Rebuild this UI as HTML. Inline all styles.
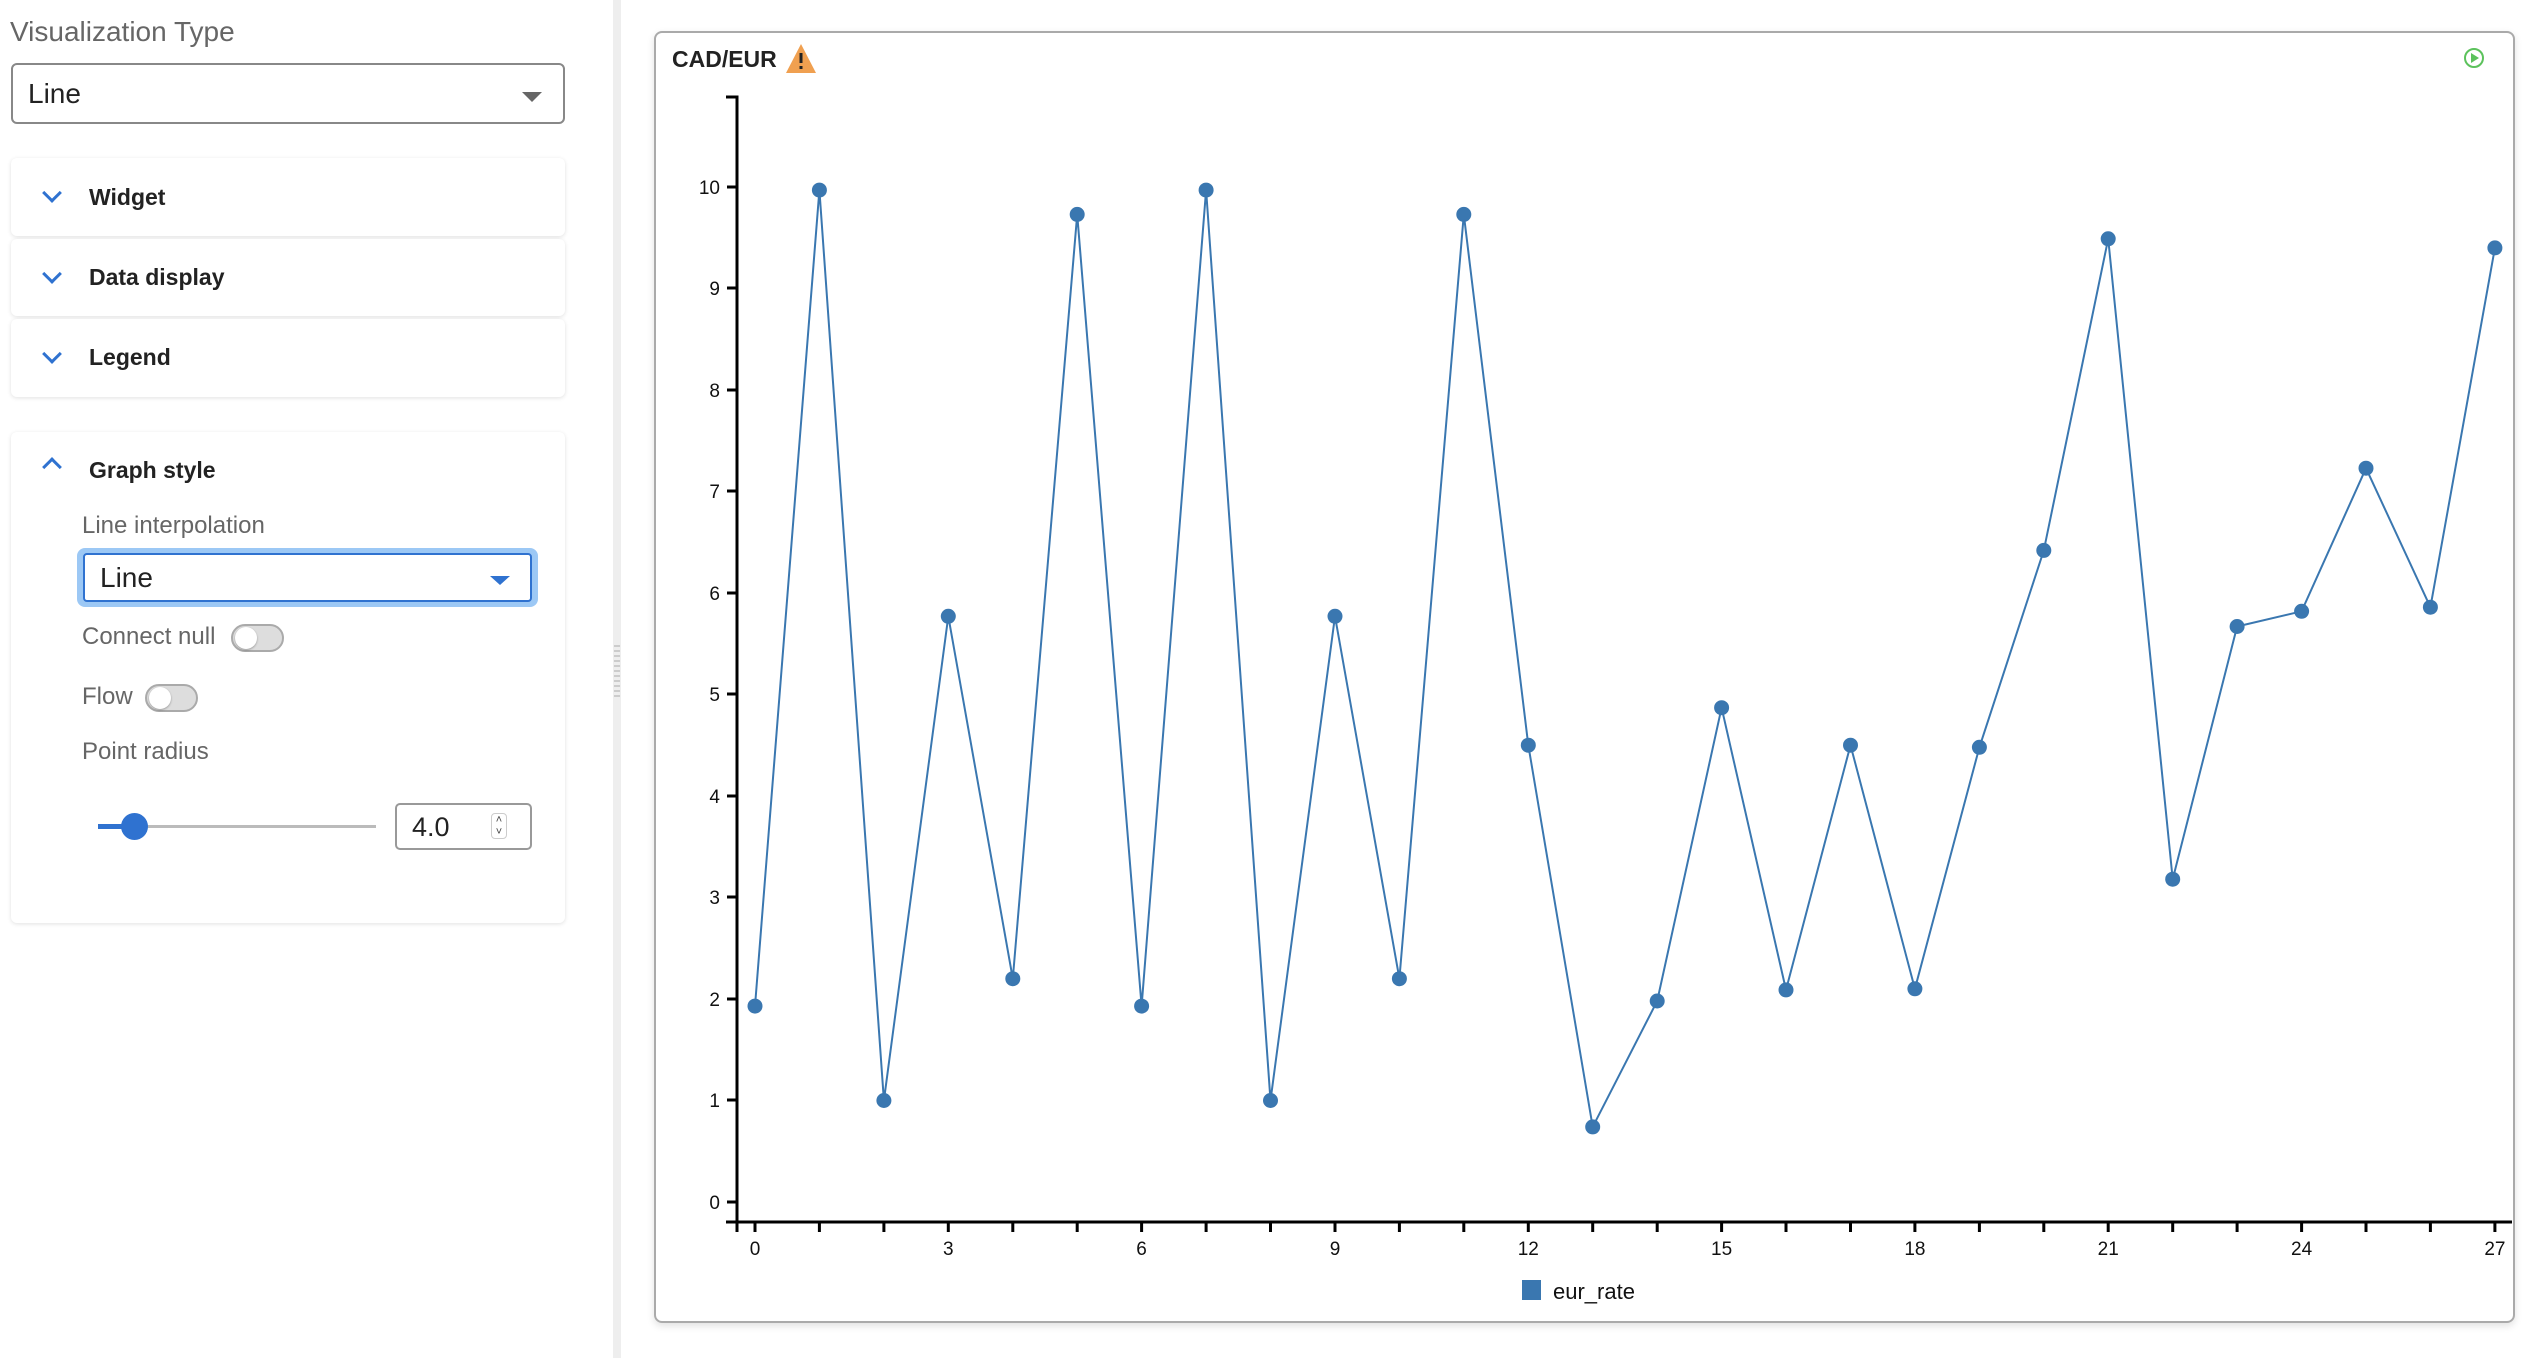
<!DOCTYPE html>
<html><head><meta charset="utf-8"><style>
*{box-sizing:border-box;margin:0;padding:0}
body{width:2526px;height:1358px;background:#fff;font-family:"Liberation Sans",sans-serif;position:relative;overflow:hidden;color:#222}
.abs{position:absolute}
.lbl{color:#666;font-size:26px}
.card{position:absolute;left:11px;width:554px;background:#fff;border-radius:6px;box-shadow:0 1px 4px rgba(0,0,0,0.12)}
.ct{position:absolute;left:78px;font-weight:bold;font-size:23px;color:#222}
.chev{position:absolute;left:34px;width:14px;height:14px;border-right:3px solid #2f72d0;border-bottom:3px solid #2f72d0;transform:rotate(45deg)}
.tog{position:absolute;width:53px;height:28px;border-radius:14px;background:#ddd;border:2px solid #aaa}
.tog::after{content:"";position:absolute;left:2px;top:1px;width:22px;height:22px;border-radius:50%;background:#fff;box-shadow:0 1px 2px rgba(0,0,0,.3)}
</style></head><body>
<div class="abs lbl" style="left:10px;top:16px;font-size:28px">Visualization Type</div>
<div class="abs" style="left:11px;top:63px;width:554px;height:61px;border:2px solid #888;border-radius:6px"></div>
<div class="abs" style="left:28px;top:78px;font-size:28px">Line</div>
<div class="abs" style="left:522px;top:92px;border-left:10px solid transparent;border-right:10px solid transparent;border-top:10px solid #666"></div>

<div class="card" style="top:158px;height:78px"><div class="chev" style="top:28px"></div><div class="ct" style="top:26px">Widget</div></div>
<div class="card" style="top:239px;height:77px"><div class="chev" style="top:28px"></div><div class="ct" style="top:25px">Data display</div></div>
<div class="card" style="top:319px;height:78px"><div class="chev" style="top:28px"></div><div class="ct" style="top:25px">Legend</div></div>
<div class="card" style="top:432px;height:491px">
 <div class="chev" style="top:28px;transform:rotate(-135deg)"></div><div class="ct" style="top:25px">Graph style</div>
</div>
<div class="abs lbl" style="left:82px;top:512px;font-size:24px">Line interpolation</div>
<div class="abs" style="left:77px;top:548px;width:461px;height:59px;border-radius:8px;background:#9cc8f5"></div>
<div class="abs" style="left:83px;top:553px;width:449px;height:49px;border-radius:4px;background:#fff;border:2px solid #2f72d0"></div>
<div class="abs" style="left:100px;top:562px;font-size:28px">Line</div>
<div class="abs" style="left:490px;top:576px;border-left:10px solid transparent;border-right:10px solid transparent;border-top:9px solid #2f72d0"></div>
<div class="abs lbl" style="left:82px;top:623px;font-size:24px">Connect null</div>
<div class="tog" style="left:231px;top:624px"></div>
<div class="abs lbl" style="left:82px;top:683px;font-size:24px">Flow</div>
<div class="tog" style="left:145px;top:684px"></div>
<div class="abs lbl" style="left:82px;top:738px;font-size:24px">Point radius</div>
<div class="abs" style="left:98px;top:825px;width:278px;height:3px;background:#bbb"></div>
<div class="abs" style="left:98px;top:824px;width:36px;height:5px;background:#2f72d0"></div>
<div class="abs" style="left:121px;top:813px;width:27px;height:27px;border-radius:50%;background:#2f72d0"></div>
<div class="abs" style="left:395px;top:803px;width:137px;height:47px;border:2px solid #999;border-radius:5px"></div>
<div class="abs" style="left:412px;top:812px;font-size:27px">4.0</div>
<div class="abs" style="left:491px;top:813px;width:16px;height:26px;border:1px solid #ccc;border-radius:4px;font-size:11px;line-height:12px;text-align:center;color:#444">˄<br>˅</div>

<div class="abs" style="left:613px;top:0;width:8px;height:1358px;background:#eee"></div>
<div class="abs" style="left:614px;top:645px;width:6px;height:55px;background:repeating-linear-gradient(#ccc 0 2px,transparent 2px 5px)"></div>

<div class="abs" style="left:654px;top:31px;width:1861px;height:1292px;border:2px solid #aaa;border-radius:8px;box-shadow:0 3px 8px rgba(0,0,0,.12)"></div>
<svg class="abs" style="left:0;top:0" width="2526" height="1358">
<text x="672" y="67" font-family="Liberation Sans" font-weight="bold" font-size="23" fill="#222">CAD/EUR</text>
<polygon points="786,73 801,44 816,73" fill="#f0a050"/>
<rect x="799.5" y="53" width="3" height="10" fill="#222"/><rect x="799.5" y="66" width="3" height="3" fill="#222"/>
<circle cx="2474" cy="58" r="9" fill="none" stroke="#5cc25c" stroke-width="2"/>
<polygon points="2471,53 2471,63 2479,58" fill="#5cc25c"/>
<g stroke="#000" stroke-width="3" fill="none">
<path d="M726,97H737V1222"/>
<path d="M726,1222H2512"/>
<path d="M727,187H737M727,288H737M727,390H737M727,491H737M727,593H737M727,694H737M727,796H737M727,897H737M727,999H737M727,1100H737M727,1202H737"/>
<path d="M737,1222v10M755,1222v10M819.4,1222v10M883.9,1222v10M948.3,1222v10M1012.8,1222v10M1077.2,1222v10M1141.6,1222v10M1206.1,1222v10M1270.5,1222v10M1335,1222v10M1399.4,1222v10M1463.8,1222v10M1528.3,1222v10M1592.7,1222v10M1657.2,1222v10M1721.6,1222v10M1786,1222v10M1850.5,1222v10M1914.9,1222v10M1979.4,1222v10M2043.8,1222v10M2108.2,1222v10M2172.7,1222v10M2237.1,1222v10M2301.6,1222v10M2366,1222v10M2430.4,1222v10M2494.9,1222v10"/>
</g>
<g font-family="Liberation Sans" font-size="19" fill="#111" text-anchor="end">
<text x="720" y="194">10</text><text x="720" y="295">9</text><text x="720" y="397">8</text><text x="720" y="498">7</text><text x="720" y="600">6</text><text x="720" y="701">5</text><text x="720" y="803">4</text><text x="720" y="904">3</text><text x="720" y="1006">2</text><text x="720" y="1107">1</text><text x="720" y="1209">0</text>
</g>
<g font-family="Liberation Sans" font-size="19" fill="#111" text-anchor="middle">
<text x="755" y="1255">0</text><text x="948.3" y="1255">3</text><text x="1141.6" y="1255">6</text><text x="1335" y="1255">9</text><text x="1528.3" y="1255">12</text><text x="1721.6" y="1255">15</text><text x="1914.9" y="1255">18</text><text x="2108.2" y="1255">21</text><text x="2301.6" y="1255">24</text><text x="2494.9" y="1255">27</text>
</g>
<polyline fill="none" stroke="#3a77b0" stroke-width="2" points="755,1006.1 819.4,190.1 883.9,1100.5 948.3,616.3 1012.8,978.7 1077.2,214.4 1141.6,1006.1 1206.1,190.1 1270.5,1100.5 1335,616.3 1399.4,978.7 1463.8,214.4 1528.3,745.2 1592.7,1126.9 1657.2,1001 1721.6,707.7 1786,989.9 1850.5,745.2 1914.9,988.8 1979.4,747.3 2043.8,550.4 2108.2,238.8 2172.7,879.2 2237.1,626.5 2301.6,611.3 2366,468.2 2430.4,607.2 2494.9,247.9"/>
<g fill="#3a77b0">
<circle cx="755" cy="1006.1" r="7.5"/><circle cx="819.4" cy="190.1" r="7.5"/><circle cx="883.9" cy="1100.5" r="7.5"/><circle cx="948.3" cy="616.3" r="7.5"/><circle cx="1012.8" cy="978.7" r="7.5"/><circle cx="1077.2" cy="214.4" r="7.5"/><circle cx="1141.6" cy="1006.1" r="7.5"/><circle cx="1206.1" cy="190.1" r="7.5"/><circle cx="1270.5" cy="1100.5" r="7.5"/><circle cx="1335" cy="616.3" r="7.5"/><circle cx="1399.4" cy="978.7" r="7.5"/><circle cx="1463.8" cy="214.4" r="7.5"/><circle cx="1528.3" cy="745.2" r="7.5"/><circle cx="1592.7" cy="1126.9" r="7.5"/><circle cx="1657.2" cy="1001" r="7.5"/><circle cx="1721.6" cy="707.7" r="7.5"/><circle cx="1786" cy="989.9" r="7.5"/><circle cx="1850.5" cy="745.2" r="7.5"/><circle cx="1914.9" cy="988.8" r="7.5"/><circle cx="1979.4" cy="747.3" r="7.5"/><circle cx="2043.8" cy="550.4" r="7.5"/><circle cx="2108.2" cy="238.8" r="7.5"/><circle cx="2172.7" cy="879.2" r="7.5"/><circle cx="2237.1" cy="626.5" r="7.5"/><circle cx="2301.6" cy="611.3" r="7.5"/><circle cx="2366" cy="468.2" r="7.5"/><circle cx="2430.4" cy="607.2" r="7.5"/><circle cx="2494.9" cy="247.9" r="7.5"/>
</g>
<rect x="1522" y="1280" width="19" height="20" fill="#3a77b0"/>
<text x="1553" y="1299" font-family="Liberation Sans" font-size="22" fill="#111">eur_rate</text>
</svg>
</body></html>
